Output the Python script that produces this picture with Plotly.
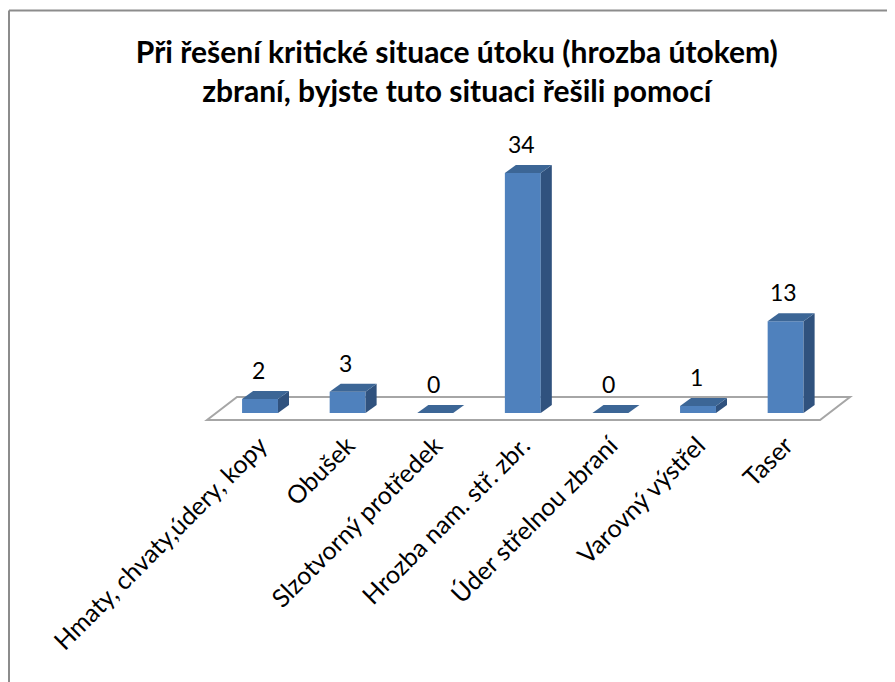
import plotly.graph_objects as go

# ---- data ----
categories = ["Hmaty, chvaty,údery, kopy", "Obušek", "Slzotvorný protředek",
              "Hrozba nam. stř. zbr.", "Úder střelnou zbraní", "Varovný výstřel", "Taser"]
values = [2, 3, 0, 34, 0, 1, 13]
title_text = "Při řešení kritické situace útoku (hrozba útokem)<br>zbraní, byjste tuto situaci řešili pomocí"

# ---- style / geometry ----
FRONT = "#4F81BD"
TOP = "#3C6696"
SIDE = "#30527E"
BAR_W = 0.41
BAR_DX, BAR_DY = 0.126, 1.13      # bar depth (x units, value units)
FLOOR_DX, FLOOR_DY = 0.342, 3.26  # floor depth
FLOOR_FRONT_Y = -0.99
FLOOR_PAD_L, FLOOR_PAD_R = 0.605, 0.393
FONT = "Lato"

n = len(categories)
xs = list(range(n))

fig = go.Figure()

# front faces
fig.add_trace(go.Bar(x=xs, y=values, width=BAR_W, marker=dict(color=FRONT, line=dict(width=0)),
                     hoverinfo="skip", showlegend=False))

# side and top faces
for i, v in zip(xs, values):
    xr = i + BAR_W / 2
    xl = i - BAR_W / 2
    if v > 0:
        fig.add_trace(go.Scatter(
            x=[xr, xr + BAR_DX, xr + BAR_DX, xr, xr],
            y=[0, BAR_DY, v + BAR_DY, v, 0],
            mode="lines", fill="toself", fillcolor=SIDE, line=dict(width=0),
            hoverinfo="skip", showlegend=False))
    fig.add_trace(go.Scatter(
        x=[xl, xr, xr + BAR_DX, xl + BAR_DX, xl],
        y=[v, v, v + BAR_DY, v + BAR_DY, v],
        mode="lines", fill="toself", fillcolor=TOP, line=dict(width=0),
        hoverinfo="skip", showlegend=False))

# value labels
for i, v in zip(xs, values):
    fig.add_annotation(x=i - 0.02, y=v + BAR_DY, text=str(v), showarrow=False,
                       yanchor="middle", yshift=21,
                       font=dict(family=FONT, size=23, color="#000000"))

# floor
fx0 = -FLOOR_PAD_L
fx1 = (n - 1) + FLOOR_PAD_R
fy0 = FLOOR_FRONT_Y
path = (f"M {fx0},{fy0} L {fx1},{fy0} L {fx1 + FLOOR_DX},{fy0 + FLOOR_DY} "
        f"L {fx0 + FLOOR_DX},{fy0 + FLOOR_DY} Z")
fig.add_shape(type="path", path=path, xref="x", yref="y", layer="below",
              line=dict(color="#A6A6A6", width=2), fillcolor="rgba(0,0,0,0)")

# outer border (left and top edges)
fig.add_shape(type="line", xref="paper", yref="paper", x0=-0.2000, x1=-0.2000, y0=-1.0, y1=1.4050,
              line=dict(color="#8C8C8C", width=2))
fig.add_shape(type="line", xref="paper", yref="paper", x0=-0.2000, x1=1.2, y0=1.4050, y1=1.4050,
              line=dict(color="#8C8C8C", width=2))

fig.update_layout(
    width=887, height=674,
    margin=dict(l=142, r=40, t=122, b=257),
    paper_bgcolor="white", plot_bgcolor="white",
    title=dict(text=title_text, x=0.506, xref="container", xanchor="center",
               y=0.919, yanchor="middle",
               font=dict(family=FONT, size=30, color="#000000", weight="bold")),
    xaxis=dict(range=[-1.256, 6.792], tickvals=xs, ticktext=categories, tickangle=-45,
               showgrid=False, zeroline=False, showline=False, ticks="",
               tickfont=dict(family=FONT, size=25, color="#000000")),
    yaxis=dict(range=[-1.70, 40.08], visible=False),
    showlegend=False,
)

fig.write_html("out.html")
